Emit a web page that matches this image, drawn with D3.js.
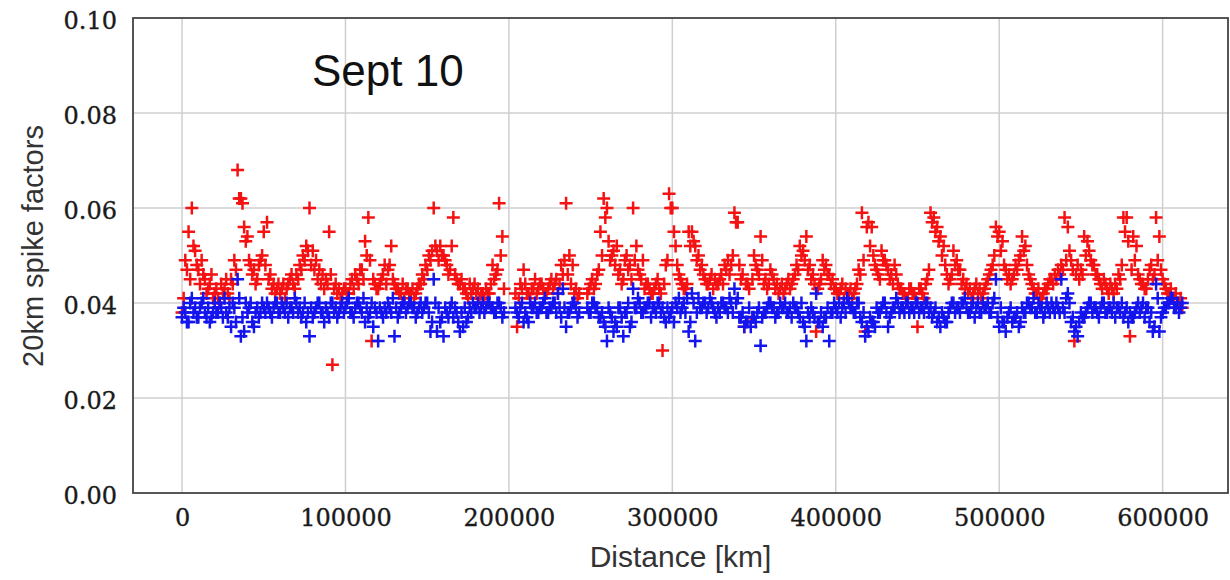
<!DOCTYPE html>
<html>
<head>
<meta charset="utf-8">
<script src="https://cdn.jsdelivr.net/npm/d3@7"></script>
<style>
  html, body { margin: 0; padding: 0; background: #fff; }
  svg { display: block; }
</style>
</head>
<body>
<svg id="chart" width="1230" height="580"></svg>
<script>
// Along-track distance of each sample, in thousands of km
const distanceKkm = [
  // even-numbered passes
  0,2,4,6,8,10,12,14,16,18, 20,22,24,26,28,30,32,34,36,38,
  40,42,44,46,48,50,52,54,56,58, 60,62,64,66,68,70,72,74,76,78,
  80,82,84,86,88,90,92,94,96,98, 100,102,104,106,108,110,112,114,116,118,
  120,122,124,126,128,130,132,134,136,138, 140,142,144,146,148,150,152,154,156,158,
  160,162,164,166,168,170,172,174,176,178, 180,182,184,186,188,190,192,194,196,
  205,207,209,211,213,215,217,219,221,223, 225,227,229,231,233,235,237,239,241,243,
  248,250,252,254,256,258,260,262,264,266, 268,270,272,274,276,278,280,282,284,286,
  288,290,292,294,296,298,300,302,304,306, 308,310,312,314,316,318,320,322,324,326,
  328,330,332,334,336,338,340,342,344,346, 348,350,352,354,356,358,360,362,364,366,
  368,370,372,374,376,378,380,382,384,386, 388,390,392,394,396,398,400,402,404,406,
  408,410,412,414,416,418,420,422,424,426, 428,430,432,434,436,438,440,442,444,446,
  448,450,452,454,456,458,460,462,464,466, 468,470,472,474,476,478,480,482,484,486,
  488,490,492,494,496,498,500,502,504,506, 508,510,512,514,516,518,520,522,524,526,
  528,530,532,534,536,538,540,542,544,546, 548,550,552,554,556,558,560,562,564,566,
  568,570,572,574,576,578,580,582,584,586, 588,590,592,594,596,598,600,602,604,606,
  608,610,612,
  // odd-numbered passes
  1,3,5,7,9,11,13,15,17,19, 21,23,25,27,29,31,33,35,37,39,
  41,43,45,47,49,51,53,55,57,59, 61,63,65,67,69,71,73,75,77,79,
  81,83,85,87,89,91,93,95,97,99, 101,103,105,107,109,111,113,115,117,119,
  121,123,125,127,129,131,133,135,137,139, 141,143,145,147,149,151,153,155,157,159,
  161,163,165,167,169,171,173,175,177,179, 181,183,185,187,189,191,193,195,197,
  204,206,208,210,212,214,216,218,220,222, 224,226,228,230,232,234,236,238,240,242,
  249,251,253,255,257,259,261,263,265,267, 269,271,273,275,277,279,281,283,285,287,
  289,291,293,295,297,299,301,303,305,307, 309,311,313,315,317,319,321,323,325,327,
  329,331,333,335,337,339,341,343,345,347, 349,351,353,355,357,359,361,363,365,367,
  369,371,373,375,377,379,381,383,385,387, 389,391,393,395,397,399,401,403,405,407,
  409,411,413,415,417,419,421,423,425,427, 429,431,433,435,437,439,441,443,445,447,
  449,451,453,455,457,459,461,463,465,467, 469,471,473,475,477,479,481,483,485,487,
  489,491,493,495,497,499,501,503,505,507, 509,511,513,515,517,519,521,523,525,527,
  529,531,533,535,537,539,541,543,545,547, 549,551,553,555,557,559,561,563,565,567,
  569,571,573,575,577,579,581,583,585,587, 589,591,593,595,597,599,601,603,605,607,
  609,611
];

// Spike factor, red series
const redFactor = [
  .038,.049,.055,.060,.051,.047,.049,.045,.043,.046, .042,.041,.044,.043,.042,.045,.049,.068,.062,.056,
  .054,.048,.047,.045,.049,.055,.057,.046,.044,.043, .042,.044,.043,.045,.044,.046,.048,.050,.052,.060,
  .051,.049,.047,.046,.045,.055,.027,.044,.043,.042, .043,.042,.045,.046,.044,.047,.053,.058,.032,.044,
  .043,.045,.048,.047,.052,.044,.043,.042,.041,.043, .042,.041,.043,.044,.045,.047,.049,.060,.051,.052,
  .050,.048,.047,.058,.045,.044,.043,.042,.044,.043, .042,.041,.042,.043,.042,.048,.046,.061,.054,
  .035,.044,.047,.042,.041,.043,.042,.044,.043,.042, .044,.043,.045,.044,.046,.061,.050,.048,.043,.042,
  .042,.044,.043,.046,.055,.062,.060,.049,.051,.052, .047,.045,.050,.048,.060,.052,.046,.049,.044,.043,
  .042,.044,.043,.030,.048,.063,.060,.052,.046,.044, .043,.055,.055,.052,.050,.048,.045,.044,.046,.045,
  .044,.046,.048,.049,.048,.059,.057,.045,.035,.044, .036,.050,.047,.054,.044,.043,.047,.045,.044,.043,
  .042,.044,.043,.045,.048,.052,.051,.054,.048,.046, .034,.044,.049,.048,.046,.045,.043,.042,.044,.043,
  .042,.041,.043,.047,.059,.034,.057,.056,.048,.046, .051,.049,.047,.046,.048,.044,.043,.042,.041,.043,
  .042,.035,.043,.041,.045,.059,.058,.056,.054,.052, .046,.045,.051,.049,.047,.045,.044,.043,.042,.044,
  .043,.042,.044,.046,.048,.056,.055,.053,.047,.046, .045,.048,.049,.054,.052,.046,.044,.042,.043,.041,
  .043,.044,.045,.046,.047,.048,.058,.056,.049,.032, .048,.047,.054,.053,.049,.048,.046,.044,.045,.043,
  .044,.042,.043,.045,.058,.058,.033,.054,.052,.045, .044,.043,.047,.045,.058,.054,.045,.043,.042,.041,
  .042,.040,.039,
  .041,.047,.045,.052,.048,.044,.046,.042,.044,.041, .043,.040,.042,.045,.041,.044,.047,.062,.061,.053,
  .049,.046,.044,.048,.050,.048,.045,.043,.042,.044, .043,.041,.044,.046,.043,.045,.047,.049,.051,.048,
  .047,.045,.044,.043,.044,.046,.043,.042,.041,.043, .042,.044,.043,.045,.047,.045,.050,.049,.045,.043,
  .044,.046,.044,.048,.045,.043,.042,.044,.043,.042, .043,.042,.044,.046,.048,.050,.051,.052,.049,.050,
  .049,.046,.052,.046,.044,.045,.043,.041,.042,.044, .043,.042,.041,.042,.044,.045,.047,.050,.043,
  .042,.041,.043,.044,.042,.043,.045,.043,.044,.042, .043,.045,.044,.042,.048,.049,.046,.044,.042,.041,
  .043,.045,.044,.047,.050,.058,.053,.050,.048,.046, .044,.049,.047,.045,.049,.047,.045,.043,.044,.042,
  .043,.045,.042,.044,.049,.060,.055,.048,.045,.043, .044,.052,.053,.049,.047,.046,.044,.045,.043,.044,
  .045,.044,.047,.046,.050,.057,.048,.046,.044,.043, .045,.048,.046,.049,.045,.044,.046,.043,.042,.044,
  .043,.045,.044,.046,.047,.050,.049,.047,.045,.044, .043,.045,.047,.046,.044,.043,.042,.043,.041,.042,
  .043,.042,.044,.046,.049,.056,.052,.050,.047,.045, .049,.048,.045,.044,.046,.043,.042,.041,.043,.042,
  .041,.043,.042,.044,.047,.057,.055,.053,.050,.048, .044,.046,.048,.047,.044,.043,.042,.041,.043,.042,
  .041,.043,.045,.047,.050,.054,.051,.048,.045,.044, .046,.047,.050,.051,.048,.045,.043,.042,.041,.042,
  .043,.045,.044,.045,.046,.047,.049,.051,.047,.046, .045,.046,.050,.051,.048,.046,.045,.043,.044,.042,
  .043,.044,.046,.048,.055,.053,.047,.049,.046,.044, .043,.045,.048,.046,.049,.047,.044,.042,.043,.041,
  .040,.041
];

// Spike factor, blue series
const blueFactor = [
  .037,.038,.036,.041,.039,.037,.040,.038,.039,.037, .040,.038,.039,.041,.037,.035,.039,.045,.033,.034,
  .038,.040,.035,.039,.038,.039,.040,.038,.039,.040, .038,.039,.040,.039,.038,.040,.039,.038,.036,.033,
  .037,.039,.040,.038,.039,.037,.040,.039,.038,.040, .039,.041,.038,.039,.040,.038,.036,.037,.040,.039,
  .032,.038,.039,.040,.038,.033,.037,.039,.040,.039, .040,.039,.038,.040,.039,.040,.034,.045,.034,.036,
  .033,.038,.039,.037,.038,.034,.035,.036,.039,.040, .039,.038,.040,.039,.040,.039,.038,.040,.037,
  .038,.039,.036,.037,.040,.039,.038,.039,.040,.038, .039,.040,.038,.039,.043,.035,.038,.040,.039,.038,
  .039,.038,.040,.039,.037,.036,.032,.038,.034,.035, .039,.033,.038,.035,.043,.039,.040,.038,.039,.040,
  .039,.038,.040,.039,.036,.037,.039,.040,.041,.039, .038,.034,.042,.032,.041,.039,.040,.039,.040,.038,
  .039,.040,.039,.038,.040,.043,.041,.037,.035,.036, .035,.037,.038,.031,.038,.039,.040,.039,.038,.040,
  .039,.038,.039,.040,.039,.037,.036,.032,.037,.038, .042,.036,.035,.037,.032,.038,.039,.040,.039,.038,
  .040,.039,.038,.040,.036,.033,.034,.036,.035,.038, .039,.040,.035,.038,.039,.040,.039,.038,.040,.039,
  .038,.040,.039,.038,.040,.039,.038,.036,.035,.037, .036,.039,.040,.039,.038,.040,.039,.038,.040,.039,
  .038,.040,.039,.038,.040,.045,.035,.036,.034,.038, .036,.037,.035,.039,.038,.040,.039,.038,.040,.039,
  .038,.039,.040,.038,.039,.045,.038,.042,.036,.034, .033,.038,.037,.039,.040,.039,.038,.039,.040,.038,
  .039,.040,.039,.038,.037,.039,.038,.037,.039,.038, .040,.039,.036,.034,.044,.034,.038,.039,.040,.041,
  .039,.038,.040,
  .039,.036,.040,.038,.037,.039,.041,.037,.036,.038, .038,.040,.037,.038,.039,.040,.036,.041,.037,.040,
  .039,.036,.038,.037,.040,.038,.039,.037,.040,.038, .040,.038,.037,.039,.041,.038,.037,.040,.038,.039,
  .038,.040,.038,.036,.038,.040,.038,.037,.039,.038, .040,.038,.037,.040,.039,.041,.039,.038,.035,.038,
  .039,.037,.038,.039,.041,.039,.038,.040,.038,.040, .039,.037,.039,.038,.040,.038,.036,.040,.039,.037,
  .039,.037,.040,.039,.036,.038,.039,.037,.038,.039, .040,.039,.038,.040,.039,.038,.040,.039,.038,
  .039,.037,.040,.038,.036,.039,.040,.038,.039,.041, .038,.039,.040,.042,.037,.039,.038,.039,.040,.037,
  .038,.040,.039,.037,.038,.035,.039,.037,.036,.039, .037,.038,.040,.036,.039,.041,.038,.039,.040,.037,
  .039,.040,.038,.037,.039,.038,.036,.039,.038,.040, .041,.036,.040,.038,.039,.040,.038,.041,.039,.037,
  .038,.040,.039,.041,.038,.040,.037,.038,.036,.039, .037,.036,.039,.037,.038,.040,.039,.037,.038,.039,
  .040,.038,.037,.039,.038,.040,.035,.038,.039,.037, .036,.038,.037,.039,.038,.040,.038,.037,.040,.041,
  .039,.038,.040,.037,.038,.035,.037,.036,.039,.038, .040,.038,.037,.039,.041,.038,.039,.040,.038,.039,
  .040,.038,.039,.040,.038,.037,.039,.037,.038,.036, .038,.040,.038,.039,.040,.041,.038,.039,.037,.040,
  .038,.039,.040,.038,.041,.037,.039,.036,.037,.039, .037,.038,.036,.038,.040,.039,.041,.038,.039,.037,
  .040,.038,.039,.040,.038,.039,.041,.040,.037,.035, .036,.037,.038,.040,.038,.039,.037,.040,.038,.039,
  .038,.037,.039,.040,.038,.036,.037,.038,.040,.039, .037,.039,.038,.035,.041,.037,.039,.040,.041,.039,
  .040,.039
];

const xTickValues = [0, 100000, 200000, 300000, 400000, 500000, 600000];
const yTickValues = [0, 0.02, 0.04, 0.06, 0.08, 0.10];
const xAxisTitle = "Distance [km]";
const yAxisTitle = "20km spike factors";
const panelLabel = "Sept 10";

const svg = d3.select("#chart");
const plot = { left: 133, right: 1228, top: 18, bottom: 493 };

const x = d3.scaleLinear().domain([-30000, 640000]).range([plot.left, plot.right]);
const y = d3.scaleLinear().domain([0, 0.10]).range([plot.bottom, plot.top]);

// Grid lines
const grid = svg.append("g").attr("stroke", "#cfcfcf").attr("stroke-width", 1.5);
grid.selectAll("line.vx").data(xTickValues).join("line")
  .attr("x1", d => x(d)).attr("x2", d => x(d))
  .attr("y1", plot.top).attr("y2", plot.bottom);
grid.selectAll("line.hy").data(yTickValues.slice(1, -1)).join("line")
  .attr("x1", plot.left).attr("x2", plot.right)
  .attr("y1", d => y(d)).attr("y2", d => y(d));

// Axes (labels only; the frame is drawn separately)
const tickFont = sel => sel.attr("font-family", "'DejaVu Serif', serif").attr("font-size", 24)
  .attr("fill", "#1a1a1a").attr("stroke", "#1a1a1a").attr("stroke-width", 0.35);

const xAxis = d3.axisBottom(x).tickValues(xTickValues).tickFormat(d3.format("d")).tickSize(0).tickPadding(16);
const gx = svg.append("g").attr("transform", `translate(0,${plot.bottom})`).call(xAxis);
gx.select(".domain").remove();
gx.selectAll("text").call(tickFont);

const yAxis = d3.axisLeft(y).tickValues(yTickValues).tickFormat(d3.format(".2f")).tickSize(0).tickPadding(16);
const gy = svg.append("g").attr("transform", `translate(${plot.left},0)`).call(yAxis);
gy.select(".domain").remove();
gy.selectAll("text").call(tickFont).attr("dy", "0.45em");

// Plus markers
function plusPath(cx, cy, r) {
  return `M${cx - r},${cy}H${cx + r}M${cx},${cy - r}V${cy + r}`;
}
const samples = distanceKkm.map((d, i) => ({ km: d * 1000, red: redFactor[i], blue: blueFactor[i] }));

svg.append("g").selectAll("path").data(samples).join("path")
  .attr("d", s => plusPath(x(s.km), y(s.red), 6.5))
  .attr("stroke", "#f51212").attr("stroke-width", 2.5).attr("fill", "none");

svg.append("g").selectAll("path").data(samples).join("path")
  .attr("d", s => plusPath(x(s.km), y(s.blue), 6.5))
  .attr("stroke", "#1414ee").attr("stroke-width", 2.5).attr("fill", "none");

// Frame
svg.append("rect")
  .attr("x", plot.left).attr("y", plot.top)
  .attr("width", plot.right - plot.left).attr("height", plot.bottom - plot.top)
  .attr("fill", "none").attr("stroke", "#444").attr("stroke-width", 1.8);

// Titles
svg.append("text").attr("x", (plot.left + plot.right) / 2).attr("y", 567)
  .attr("text-anchor", "middle").attr("font-family", "'Liberation Sans', Arial, sans-serif")
  .attr("font-size", 30).attr("fill", "#333").text(xAxisTitle);

svg.append("text").attr("transform", "translate(43,246) rotate(-90)")
  .attr("text-anchor", "middle").attr("font-family", "'Liberation Sans', Arial, sans-serif")
  .attr("font-size", 29).attr("fill", "#333").text(yAxisTitle);

svg.append("text").attr("x", 312).attr("y", 86)
  .attr("font-family", "'Liberation Sans', Arial, sans-serif")
  .attr("font-size", 44).attr("fill", "#111").text(panelLabel);
</script>
</body>
</html>
